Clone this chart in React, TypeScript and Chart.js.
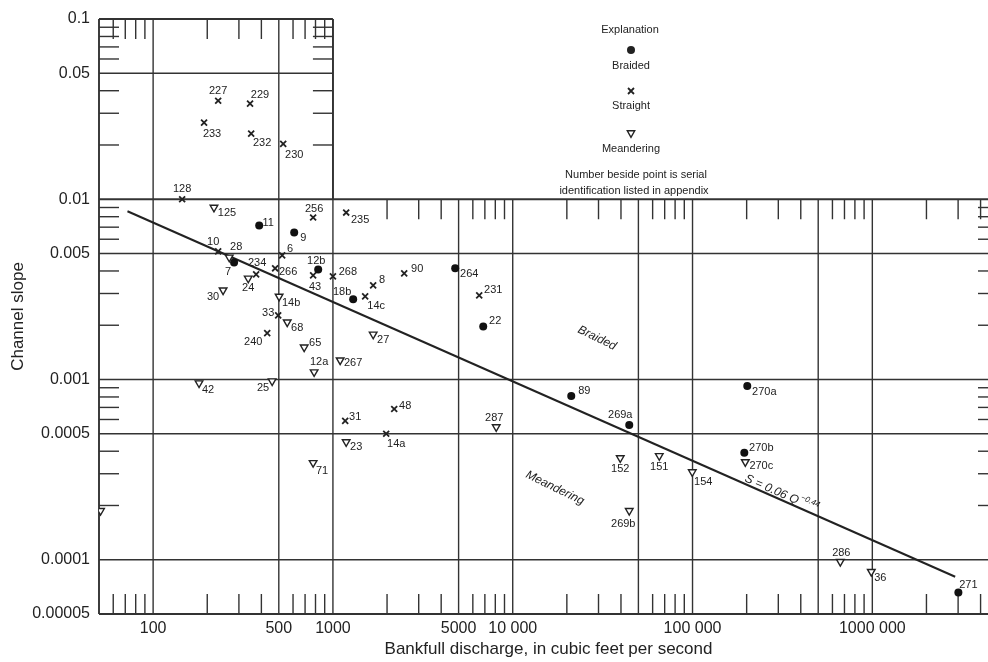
import React, { useEffect, useRef } from 'react';
import { Chart, registerables } from 'chart.js';

Chart.register(...registerables);

// ---- Data (bankfull discharge Q in cfs, channel slope S) ----
const braidedIds = ['11', '9', '7', '12b', '18b', '264', '22', '89', '269a', '270a', '270b', '271'];
const braidedQ = [389, 609, 282, 828, 1296, 4787, 6854, 21160, 44470, 201600, 194100, 3010000];
const braidedS = [0.00715, 0.00654, 0.00446, 0.00408, 0.00279, 0.00414, 0.00197, 0.000809, 0.000559, 0.000919, 0.000392, 0.0000657];

const straightIds = ['227', '229', '233', '232', '230', '128', '256', '235', '10', '234', '6', '266', '43', '268', '8', '14c', '90', '33', '240', '231', '31', '48', '14a'];
const straightQ = [230, 346, 192, 351, 529, 145, 776, 1185, 230, 374, 522, 477, 776, 1000, 1674, 1511, 2491, 496, 431, 6510, 1170, 2192, 1978];
const straightS = [0.0352, 0.0339, 0.0266, 0.0231, 0.0203, 0.0100, 0.00792, 0.00844, 0.00514, 0.00383, 0.00488, 0.00414, 0.00378, 0.00373, 0.00333, 0.00289, 0.00388, 0.00227, 0.00181, 0.00293, 0.000589, 0.000686, 0.0005];

const meanderIds = ['125', '28', '24', '30', '14b', '68', '65', '27', '267', '12a', '42', '25', '23', '71', '287', '152', '151', '154', '270c', '269b', '286', '36', ''];
const meanderQ = [218, 265, 338, 245, 502, 557, 692, 1674, 1097, 786, 180, 459, 1185, 776, 8095, 39630, 65310, 99680, 196600, 44470, 663700, 987000, 51];
const meanderS = [0.0090, 0.00476, 0.00364, 0.00313, 0.00289, 0.00208, 0.00151, 0.00178, 0.00128, 0.00110, 0.000955, 0.00098, 0.00045, 0.000345, 0.000545, 0.000367, 0.000377, 0.000307, 0.000349, 0.000187, 0.0000976, 0.0000859, 0.000187];

// fitted line S = 0.06 Q^-0.44 (end points)
const fitQ = [72, 2890000];
const fitS = [0.00858, 0.0000805];

// ---- Axes ----
const xTickValues = [100, 500, 1000, 5000, 10000, 100000, 1000000];
const xTickLabels = ['100', '500', '1000', '5000', '10 000', '100 000', '1000 000'];
const yTickValues = [0.00005, 0.0001, 0.0005, 0.001, 0.005, 0.01, 0.05, 0.1];
const yTickLabels = ['0.00005', '0.0001', '0.0005', '0.001', '0.005', '0.01', '0.05', '0.1'];

const qMin = 50;
const qMax = 5000000;
const sMin = 0.00005;
const sMax = 0.1;
const qBreak = 1000; // upper box ends at this discharge
const sBreak = 0.01; // upper box starts at this slope

const upperGridQ = [100, 500, 1000];
const lowerGridQ = [5000, 10000, 50000, 100000, 500000, 1000000];
const upperGridS = [0.05];
const lowerGridS = [0.005, 0.001, 0.0005, 0.0001];

// label placement (pixels relative to marker)
const labelOffsets: Record<string, [number, number]> = {
  // braided
  '11': [9, -3], '9': [9, 5], '7': [-6, 10], '12b': [-2, -8], '18b': [-11, -7], '264': [14, 6],
  '22': [12, -5], '89': [13, -5], '269a': [-9, -10], '270a': [17, 6], '270b': [17, -5], '271': [10, -8],
  // straight
  '227': [0, -10], '229': [10, -9], '233': [8, 11], '232': [11, 9], '230': [11, 11], '128': [0, -10],
  '256': [1, -9], '235': [14, 7], '10': [-5, -9], '234': [1, -11], '6': [8, -6], '266': [13, 4],
  '43': [2, 12], '268': [15, -4], '8': [9, -5], '14c': [11, 10], '90': [13, -4], '33': [-10, -2],
  '240': [-14, 9], '231': [14, -5], '31': [10, -4], '48': [11, -3], '14a': [10, 10],
  // meandering
  '125': [13, 5], '28': [7, -10], '24': [0, 10], '30': [-10, 7], '14b': [12, 7], '68': [10, 6],
  '65': [11, -4], '27': [10, 6], '267': [13, 3], '12a': [5, -10], '42': [9, 7], '25': [-9, 7],
  '23': [10, 5], '71': [9, 8], '287': [-2, -9], '152': [0, 11], '151': [0, 11], '154': [11, 10],
  '270c': [16, 4], '269b': [-6, 13], '286': [1, -9], '36': [9, 6],
};

const INK = '#222';
const FONT = '"Liberation Sans", Arial, Helvetica, sans-serif';

const minorQ: number[] = [];
for (let e = 1; e <= 6; e++) for (const m of [2, 3, 4, 6, 7, 8, 9]) {
  const v = m * Math.pow(10, e);
  if (v > qMin && v < qMax) minorQ.push(v);
}
const minorS: number[] = [];
for (let e = -4; e <= -2; e++) for (const m of [2, 3, 4, 6, 7, 8, 9]) {
  const v = m * Math.pow(10, e);
  if (v > 0.0001 && v < sMax) minorS.push(v);
}

const framePlugin = {
  id: 'framePlugin',
  beforeDatasetsDraw(chart: any) {
    const { ctx, scales } = chart;
    const X = (v: number) => scales.x.getPixelForValue(v);
    const Y = (v: number) => scales.y.getPixelForValue(v);
    const seg = (x1: number, y1: number, x2: number, y2: number) => {
      ctx.beginPath();
      ctx.moveTo(x1, y1);
      ctx.lineTo(x2, y2);
      ctx.stroke();
    };
    ctx.save();
    ctx.strokeStyle = '#333';
    ctx.lineWidth = 1.4;
    const L = X(qMin), R = X(qMax), T = Y(sMax), B = Y(sMin);
    const XB = X(qBreak), YB = Y(sBreak);
    for (const v of upperGridQ) seg(X(v), T, X(v), B);
    for (const v of lowerGridQ) seg(X(v), YB, X(v), B);
    for (const v of upperGridS) seg(L, Y(v), XB, Y(v));
    for (const v of lowerGridS) seg(L, Y(v), R, Y(v));
    const tl = 20;
    for (const q of minorQ) {
      seg(X(q), B, X(q), B - tl);
      if (q < qBreak) seg(X(q), T, X(q), T + tl);
      else seg(X(q), YB, X(q), YB + tl);
    }
    for (const s of minorS) {
      seg(L, Y(s), L + tl, Y(s));
      if (s > sBreak) seg(XB, Y(s), XB - tl, Y(s));
      else seg(R, Y(s), R - tl, Y(s));
    }
    ctx.lineWidth = 1.9;
    seg(L, T, XB, T);
    seg(XB, T, XB, YB);
    seg(L, YB, R, YB);
    seg(L, T, L, B);
    seg(L, B, R, B);
    seg(R, YB, R, B);
    ctx.restore();
  },
  afterDatasetsDraw(chart: any) {
    const { ctx } = chart;
    const idSets = [braidedIds, straightIds, meanderIds];
    ctx.save();
    ctx.fillStyle = INK;
    ctx.font = `11px ${FONT}`;
    ctx.textAlign = 'center';
    ctx.textBaseline = 'middle';
    idSets.forEach((ids, d) => {
      const meta = chart.getDatasetMeta(d);
      ids.forEach((id, i) => {
        if (!id) return;
        const el = meta.data[i];
        const off = labelOffsets[id] || [10, 0];
        ctx.fillText(id, el.x + off[0], el.y + off[1]);
      });
    });
    ctx.restore();
  },
  afterDraw(chart: any) {
    const { ctx } = chart;
    ctx.save();
    ctx.fillStyle = INK;
    ctx.strokeStyle = INK;
    ctx.textAlign = 'center';
    ctx.textBaseline = 'middle';
    ctx.font = `11px ${FONT}`;
    // explanation
    ctx.fillText('Explanation', 630, 30);
    ctx.beginPath();
    ctx.arc(631, 50, 4, 0, Math.PI * 2);
    ctx.fill();
    ctx.fillText('Braided', 631, 66);
    ctx.lineWidth = 1.8;
    ctx.beginPath();
    ctx.moveTo(628, 88); ctx.lineTo(634, 94);
    ctx.moveTo(634, 88); ctx.lineTo(628, 94);
    ctx.stroke();
    ctx.fillText('Straight', 631, 106);
    ctx.lineWidth = 1.4;
    ctx.beginPath();
    ctx.moveTo(631, 137.3);
    ctx.lineTo(627.3, 130.8);
    ctx.lineTo(634.7, 130.8);
    ctx.closePath();
    ctx.stroke();
    ctx.fillText('Meandering', 631, 149);
    ctx.fillText('Number beside point is serial', 636, 175);
    ctx.fillText('identification listed in appendix', 634, 191);

    // rotated annotations
    const rot = (x: number, y: number, deg: number, fn: () => void) => {
      ctx.save();
      ctx.translate(x, y);
      ctx.rotate((deg * Math.PI) / 180);
      fn();
      ctx.restore();
    };
    ctx.font = `italic 12px ${FONT}`;
    rot(597, 338, 26, () => ctx.fillText('Braided', 0, 0));
    rot(555, 488, 26, () => ctx.fillText('Meandering', 0, 0));
    rot(744, 481, 23.8, () => {
      ctx.textAlign = 'left';
      ctx.textBaseline = 'alphabetic';
      ctx.font = `italic 12px ${FONT}`;
      const main = 'S = 0.06 Q';
      ctx.fillText(main, 0, 0);
      const w = ctx.measureText(main).width;
      ctx.font = `italic 8px ${FONT}`;
      ctx.fillText('\u22120.44', w + 1, -6);
    });
    ctx.restore();
  },
};

export default function App() {
  const ref = useRef<HTMLCanvasElement | null>(null);
  useEffect(() => {
    if (!ref.current) return;
    const pts = (q: number[], s: number[]) => q.map((v, i) => ({ x: v, y: s[i] }));
    const chart = new Chart(ref.current, {
      type: 'scatter',
      data: {
        datasets: [
          {
            label: 'Braided',
            data: pts(braidedQ, braidedS),
            pointStyle: 'circle',
            pointRadius: 4,
            backgroundColor: '#111',
            borderColor: '#111',
            borderWidth: 0,
          },
          {
            label: 'Straight',
            data: pts(straightQ, straightS),
            pointStyle: 'crossRot',
            pointRadius: 4.2,
            borderColor: INK,
            borderWidth: 1.8,
          },
          {
            label: 'Meandering',
            data: pts(meanderQ, meanderS),
            pointStyle: 'triangle',
            rotation: 180,
            pointRadius: 4.4,
            backgroundColor: '#fff',
            borderColor: INK,
            borderWidth: 1.4,
          },
          {
            type: 'line',
            label: 'fit',
            data: pts(fitQ, fitS),
            borderColor: INK,
            borderWidth: 2,
            pointRadius: 0,
            showLine: true,
            fill: false,
          } as any,
        ],
      },
      options: {
        responsive: false,
        animation: false,
        events: [],
        layout: { padding: { top: 19, right: 2, left: 0, bottom: 0 } },
        plugins: { legend: { display: false }, tooltip: { enabled: false } },
        scales: {
          x: {
            type: 'logarithmic',
            min: qMin,
            max: qMax,
            grid: { display: false, drawTicks: false },
            border: { display: false },
            afterBuildTicks: (axis: any) => {
              axis.ticks = xTickValues.map((value) => ({ value }));
            },
            afterFit: (axis: any) => {
              axis.height = 48;
            },
            ticks: {
              autoSkip: false,
              maxRotation: 0,
              padding: 5,
              color: INK,
              font: { family: FONT, size: 16 },
              callback: (v: any) => {
                const i = xTickValues.indexOf(Number(v));
                return i >= 0 ? xTickLabels[i] : '';
              },
            },
            title: {
              display: true,
              text: 'Bankfull discharge, in cubic feet per second',
              color: INK,
              font: { family: FONT, size: 17 },
              padding: { top: 0, bottom: 2 },
            },
          },
          y: {
            type: 'logarithmic',
            min: sMin,
            max: sMax,
            grid: { display: false, drawTicks: false },
            border: { display: false },
            afterBuildTicks: (axis: any) => {
              axis.ticks = yTickValues.map((value) => ({ value }));
            },
            afterFit: (axis: any) => {
              axis.width = 99;
            },
            ticks: {
              autoSkip: false,
              padding: 9,
              color: INK,
              font: { family: FONT, size: 16 },
              callback: (v: any) => {
                const i = yTickValues.indexOf(Number(v));
                return i >= 0 ? yTickLabels[i] : '';
              },
            },
            title: {
              display: true,
              text: 'Channel slope',
              color: INK,
              font: { family: FONT, size: 17 },
              padding: { top: 8, bottom: 0 },
            },
          },
        },
      },
      plugins: [framePlugin],
    });
    return () => chart.destroy();
  }, []);

  return (
    <div style={{ position: 'fixed', left: 0, top: 0, width: 988, height: 662, overflow: 'hidden', background: '#fff' }}>
      <canvas ref={ref} width={1004} height={662} style={{ display: 'block' }} />
    </div>
  );
}
